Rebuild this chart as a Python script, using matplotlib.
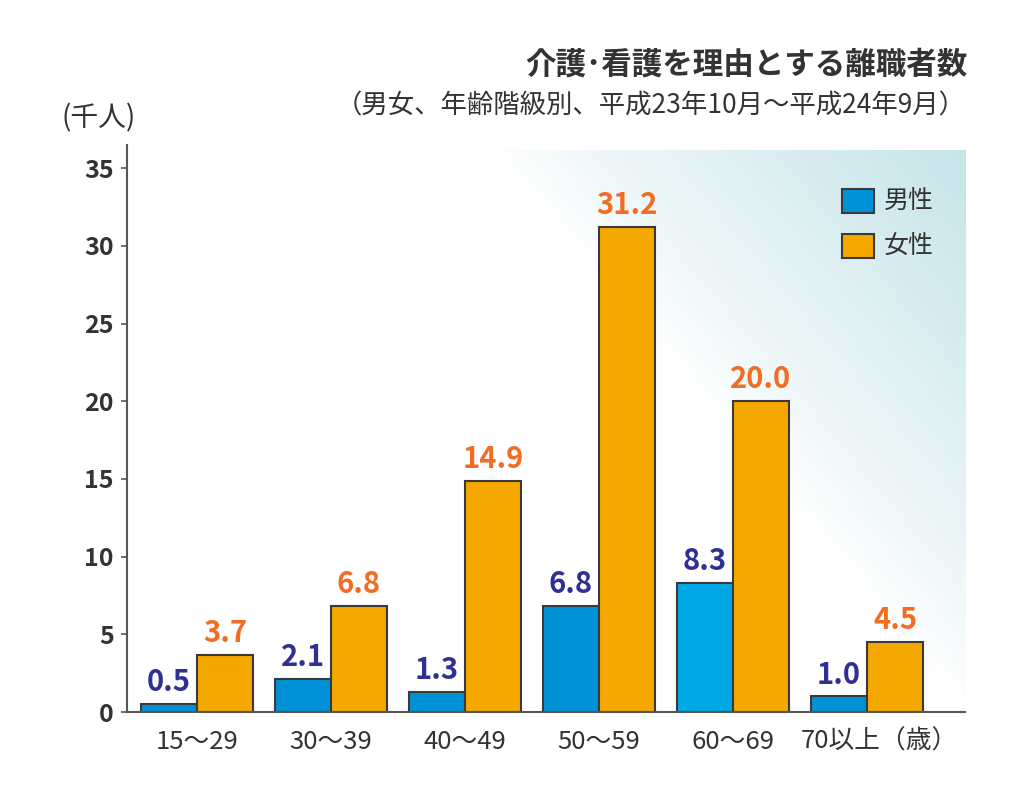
import numpy as np
import matplotlib
matplotlib.use("Agg")
import matplotlib.pyplot as plt
from matplotlib.patches import Patch
from matplotlib.transforms import ScaledTranslation

plt.rcParams['font.family'] = ['Noto Sans CJK JP', 'DejaVu Sans']

# data (thousand persons)
age_groups = ['15〜29', '30〜39', '40〜49', '50〜59', '60〜69', '70以上（歳）']
male = [0.5, 2.1, 1.3, 6.8, 8.3, 1.0]
female = [3.7, 6.8, 14.9, 31.2, 20.0, 4.5]
male_labels = ['0.5', '2.1', '1.3', '6.8', '8.3', '1.0']
female_labels = ['3.7', '6.8', '14.9', '31.2', '20.0', '4.5']

male_colors = ['#0092d6', '#0092d6', '#0092d6', '#0092d6', '#00a9e6', '#0092d6']
female_color = '#f5a800'
edge = '#3a3a3a'
text_dark = '#333333'

fig = plt.figure(figsize=(10.24, 8.09), dpi=100)
ax = fig.add_axes([127/1024, 1-712/809, (965-127)/1024, (712-145)/809])

x = np.arange(len(age_groups))
w = 0.418

# background gradient (upper right)
n = 300
u, v = np.meshgrid(np.linspace(0, 1, n), np.linspace(1, 0, n))
t = np.clip(u + v - 1, 0, 1) ** 0.85
teal = np.array([0.78, 0.895, 0.915])
img = (1 - t[..., None]) * np.ones(3) + t[..., None] * teal
ax.imshow(img, extent=((490-197)/134, 5.731, 0, (712-150)/15.54),
          aspect='auto', zorder=0, interpolation='bilinear')

ax.bar(x - w/2, male, w, color=male_colors, edgecolor=edge, linewidth=1.5, zorder=2)
ax.bar(x + w/2, female, w, color=female_color, edgecolor=edge, linewidth=1.5, zorder=2)

for i in range(len(x)):
    ax.annotate(male_labels[i], (x[i] - w/2, male[i]), xytext=(0, 5),
                textcoords='offset points', ha='center', va='bottom',
                fontsize=21, fontweight='bold', color='#2e3192', zorder=3)
    ax.annotate(female_labels[i], (x[i] + w/2, female[i]), xytext=(0, 5),
                textcoords='offset points', ha='center', va='bottom',
                fontsize=21, fontweight='bold', color='#f26c22', zorder=3)

ax.set_xlim(-0.522, 5.731)
ax.set_ylim(0, 36.5)
ax.set_yticks(range(0, 36, 5))
ax.set_xticks(x)
ax.set_xticklabels(age_groups, fontsize=18.5, color=text_dark)
ax.tick_params(axis='x', length=0, pad=12)
ax.tick_params(axis='y', length=4.5, width=1.2, color='#555555', pad=5,
               labelsize=18, labelcolor=text_dark)
for lab in ax.get_yticklabels():
    lab.set_fontweight('bold')
# the last label sits a bit right of its group
last = ax.get_xticklabels()[-1]
last.set_transform(last.get_transform() + ScaledTranslation(9/72, 0, fig.dpi_scale_trans))

for s in ['top', 'right']:
    ax.spines[s].set_visible(False)
ax.spines['left'].set_color('#555555')
ax.spines['bottom'].set_color('#555555')
ax.spines['left'].set_linewidth(1.5)
ax.spines['bottom'].set_linewidth(1.5)
ax.set_facecolor('none')

handles = [Patch(facecolor='#0092d6', edgecolor=edge, linewidth=1.5, label='男性'),
           Patch(facecolor=female_color, edgecolor=edge, linewidth=1.5, label='女性')]
fig.legend(handles=handles, loc='upper left', bbox_to_anchor=(819/1024, 1-166/809),
           frameon=False, fontsize=18, handlelength=1.3, handleheight=1.1,
           labelspacing=0.75, handletextpad=0.4, labelcolor=text_dark)

fig.text(968/1024, 1-65/809, '介護･看護を理由とする離職者数', ha='right', va='center',
         fontsize=22, fontweight='bold', color=text_dark)
fig.text(966/1024, 1-106/809, '（男女、年齢階級別、平成23年10月〜平成24年9月）',
         ha='right', va='center', fontsize=19, color=text_dark)
fig.text(62/1024, 1-118/809, '(千人)', ha='left', va='center',
         fontsize=20, color=text_dark)

fig.savefig('out.png', dpi=100, facecolor='white')
